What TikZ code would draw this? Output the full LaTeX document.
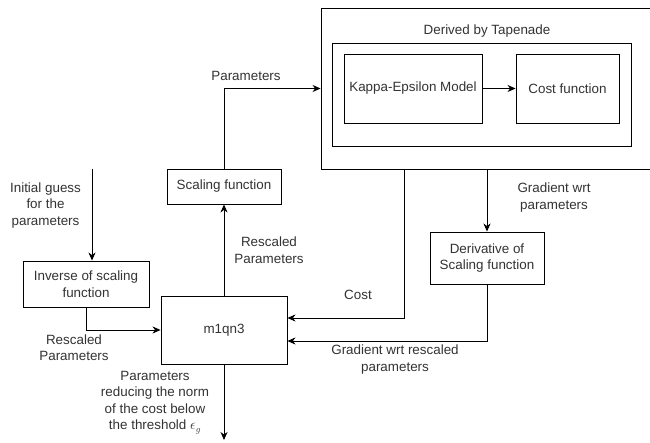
\documentclass[tikz,border=0pt]{standalone}
\usepackage{fontspec}
\setmainfont{Liberation Sans}
\usetikzlibrary{arrows.meta}
\definecolor{txt}{RGB}{51,51,51}
\newcommand\dgfont{\fontsize{13.4}{16.5}\selectfont}
\begin{document}
\begin{tikzpicture}[x=1pt,y=-1pt,
  box/.style={draw, line width=0.9pt, inner sep=0pt, align=center, font=\dgfont, text=txt},
  lbl/.style={align=center, font=\dgfont, text=txt, inner sep=0pt},
  arr/.style={draw, line width=0.9pt, -{Stealth[length=8pt,width=7pt,inset=2.5pt]}}]
\useasboundingbox (0,0) rectangle (650,443);
\clip (0,0) rectangle (650,443);
\fill[white] (0,0) rectangle (650,443);
% Tapenade group
\node[box, minimum width=340pt, minimum height=161pt] (tap) at (491,88.5) {};
\node[lbl] (dlab) at (487,31) {Derived by Tapenade};
\node[box, minimum width=299pt, minimum height=103pt] (inner) at (481.5,94.5) {};
\node[box, minimum width=138pt, minimum height=69pt] (kappa) at (413,88.5) {Kappa-Epsilon Model};
\node[box, minimum width=103pt, minimum height=69pt] (costf) at (567.5,88.5) {Cost function};
\draw[arr] (kappa) -- (costf);
% other boxes
\node[box, minimum width=114pt, minimum height=35pt] (scal) at (224,186.5) {Scaling function};
\node[box, minimum width=126pt, minimum height=68pt] (m1) at (224,330) {m1qn3};
\node[box, minimum width=126pt, minimum height=46pt] (inv) at (86,284) {Inverse of scaling\\function};
\node[box, minimum width=114pt, minimum height=52pt] (deriv) at (487,258) {Derivative of\\Scaling function};
% connectors
\coordinate (ig) at (92,169);
\coordinate (out) at (224,440);
\draw[arr] (m1.north) -- (scal.south);
\draw[arr] (scal.north) |- (tap.west);
\draw[arr] (ig) -- (ig |- inv.north);
\draw[arr] (inv.south) |- (m1.west);
\draw[arr] (m1.south) -- (out);
\draw[arr] ([xshift=-87pt]tap.south) |- ([yshift=12pt]m1.east);
\draw[arr] (deriv.north |- tap.south) -- (deriv.north);
\draw[arr] (deriv.south) |- ([yshift=-11pt]m1.east);
% labels
\node[lbl] (l1) at (246,76) {Parameters};
\node[lbl] (l2) at (269,250) {Rescaled\\Parameters};
\node[lbl] (l3) at (45.5,205.5) {Initial guess\\for the\\parameters};
\node[lbl] (l4) at (74,347.5) {Rescaled\\Parameters};
\node[lbl] (l5) at (155,402.5) {Parameters\\reducing the norm\\of the cost below\\the threshold $\epsilon_g$};
\node[lbl] (l6) at (358,295) {Cost};
\node[lbl] (l7) at (554,197.5) {Gradient wrt\\parameters};
\node[lbl] (l8) at (395,359.5) {Gradient wrt rescaled\\parameters};
\end{tikzpicture}
\end{document}
